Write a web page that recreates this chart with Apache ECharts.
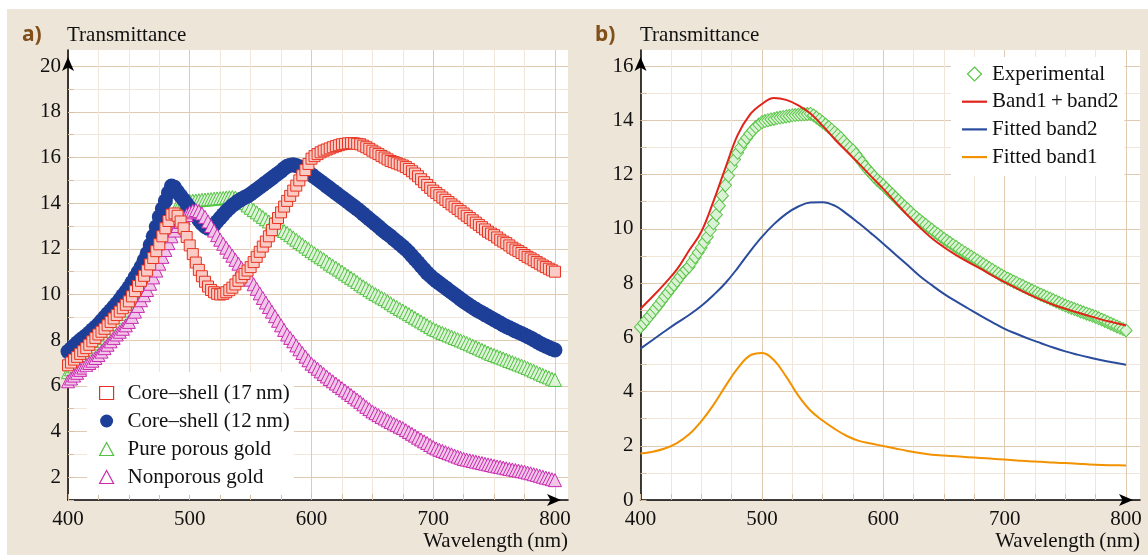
<!DOCTYPE html>
<html><head><meta charset="utf-8">
<script src="https://cdn.jsdelivr.net/npm/echarts@6/dist/echarts.min.js"></script>
<style>html,body{margin:0;padding:0;background:#fff}#c{width:1148px;height:555px}</style>
</head><body><div id="c"></div>
<script>
// ---------- data ----------
// wavelengths of the measured (marker) curves, 2.5 nm apart
const wlA = [400,402.5,405,407.5,410,412.5,415,417.5,420,422.5,
425,427.5,430,432.5,435,437.5,440,442.5,445,447.5,
450,452.5,455,457.5,460,462.5,465,467.5,470,472.5,
475,477.5,480,482.5,485,487.5,490,492.5,495,497.5,
500,502.5,505,507.5,510,512.5,515,517.5,520,522.5,
525,527.5,530,532.5,535,537.5,540,542.5,545,547.5,
550,552.5,555,557.5,560,562.5,565,567.5,570,572.5,
575,577.5,580,582.5,585,587.5,590,592.5,595,597.5,
600,602.5,605,607.5,610,612.5,615,617.5,620,622.5,
625,627.5,630,632.5,635,637.5,640,642.5,645,647.5,
650,652.5,655,657.5,660,662.5,665,667.5,670,672.5,
675,677.5,680,682.5,685,687.5,690,692.5,695,697.5,
700,702.5,705,707.5,710,712.5,715,717.5,720,722.5,
725,727.5,730,732.5,735,737.5,740,742.5,745,747.5,
750,752.5,755,757.5,760,762.5,765,767.5,770,772.5,
775,777.5,780,782.5,785,787.5,790,792.5,795,797.5,
800];
const coreShell17 = [6.9,7.02,7.15,7.27,7.4,7.52,7.65,7.8,7.95,8.1,
8.25,8.37,8.5,8.65,8.8,8.95,9.1,9.25,9.4,9.55,
9.7,9.92,10.15,10.37,10.6,10.82,11.05,11.32,11.6,11.9,
12.2,12.55,12.9,13.22,13.5,13.55,13.45,13.2,12.9,12.52,
12.15,11.77,11.4,11.08,10.8,10.56,10.35,10.2,10.1,10.03,
10.0,10.03,10.1,10.19,10.3,10.44,10.6,10.75,10.9,11.05,
11.2,11.42,11.65,11.87,12.1,12.32,12.55,12.82,13.1,13.35,
13.6,13.85,14.1,14.32,14.55,14.77,15.0,15.22,15.45,15.72,
15.95,16.06,16.15,16.23,16.3,16.35,16.4,16.45,16.5,16.54,
16.58,16.6,16.62,16.63,16.62,16.6,16.58,16.52,16.45,16.38,
16.3,16.22,16.15,16.07,16.0,15.92,15.85,15.8,15.75,15.7,
15.65,15.58,15.5,15.4,15.3,15.18,15.05,14.92,14.8,14.67,
14.55,14.45,14.35,14.25,14.15,14.05,13.95,13.85,13.75,13.65,
13.55,13.45,13.35,13.25,13.15,13.05,12.95,12.85,12.75,12.67,
12.6,12.5,12.4,12.32,12.25,12.15,12.05,11.97,11.9,11.82,
11.73,11.65,11.58,11.5,11.42,11.35,11.27,11.2,11.13,11.06,
11.0];
const coreShell12 = [7.5,7.62,7.75,7.88,8.0,8.1,8.2,8.32,8.45,8.57,
8.7,8.85,9.0,9.15,9.3,9.45,9.6,9.77,9.95,10.12,
10.3,10.52,10.75,10.97,11.2,11.5,11.8,12.17,12.55,12.97,
13.4,13.75,14.1,14.45,14.75,14.7,14.5,14.32,14.15,13.97,
13.8,13.62,13.45,13.27,13.1,12.98,12.9,12.95,13.05,13.2,
13.35,13.5,13.65,13.78,13.9,14.0,14.1,14.18,14.25,14.32,
14.4,14.5,14.6,14.7,14.8,14.9,15.0,15.1,15.2,15.3,
15.4,15.52,15.62,15.66,15.68,15.65,15.6,15.53,15.45,15.35,
15.25,15.15,15.05,14.95,14.85,14.75,14.65,14.55,14.45,14.35,
14.25,14.15,14.05,13.95,13.85,13.75,13.65,13.53,13.42,13.31,
13.2,13.09,12.98,12.86,12.75,12.65,12.55,12.43,12.32,12.21,
12.1,11.98,11.85,11.7,11.55,11.4,11.25,11.1,10.95,10.82,
10.7,10.6,10.5,10.4,10.3,10.2,10.1,10.0,9.9,9.8,
9.7,9.61,9.52,9.43,9.35,9.27,9.2,9.12,9.05,8.97,
8.9,8.82,8.75,8.67,8.6,8.54,8.48,8.41,8.35,8.29,
8.23,8.16,8.1,8.02,7.95,7.87,7.8,7.74,7.68,7.62,
7.57];
const purePorous = [6.6,6.72,6.85,6.97,7.1,7.22,7.35,7.47,7.6,7.72,
7.85,7.97,8.1,8.25,8.4,8.55,8.7,8.85,9.0,9.15,
9.3,9.5,9.7,9.92,10.15,10.4,10.65,10.92,11.2,11.52,
11.85,12.2,12.55,12.92,13.3,13.62,13.9,13.99,14.05,14.08,
14.1,14.11,14.12,14.13,14.15,14.16,14.17,14.18,14.2,14.21,
14.22,14.23,14.25,14.26,14.27,14.25,14.2,14.1,14.0,13.9,
13.8,13.7,13.6,13.5,13.4,13.3,13.2,13.1,13.0,12.92,
12.85,12.78,12.7,12.6,12.5,12.4,12.3,12.2,12.1,12.0,
11.9,11.81,11.72,11.63,11.55,11.45,11.35,11.26,11.18,11.09,
11.0,10.91,10.82,10.73,10.65,10.55,10.45,10.36,10.28,10.19,
10.1,10.02,9.95,9.87,9.8,9.71,9.62,9.53,9.45,9.37,
9.3,9.22,9.14,9.06,8.98,8.9,8.82,8.74,8.66,8.58,
8.5,8.44,8.38,8.32,8.27,8.21,8.16,8.1,8.05,7.99,
7.94,7.88,7.82,7.76,7.7,7.64,7.58,7.52,7.46,7.4,
7.35,7.3,7.25,7.2,7.15,7.09,7.04,6.99,6.94,6.89,
6.84,6.78,6.72,6.66,6.6,6.54,6.48,6.42,6.37,6.31,
6.26];
const nonporous = [6.2,6.32,6.45,6.57,6.7,6.8,6.9,7.0,7.1,7.22,
7.35,7.5,7.65,7.8,7.95,8.1,8.25,8.37,8.5,8.65,
8.8,9.02,9.25,9.5,9.75,9.97,10.2,10.47,10.75,11.05,
11.35,11.65,11.95,12.25,12.55,12.8,13.0,13.18,13.35,13.48,
13.6,13.67,13.7,13.65,13.55,13.4,13.2,13.0,12.8,12.6,
12.4,12.22,12.05,11.87,11.7,11.52,11.35,11.17,11.0,10.82,
10.65,10.45,10.25,10.05,9.85,9.65,9.45,9.25,9.05,8.85,
8.65,8.45,8.25,8.1,7.95,7.77,7.6,7.44,7.28,7.12,
6.97,6.86,6.75,6.63,6.52,6.41,6.3,6.2,6.1,6.0,
5.9,5.8,5.7,5.6,5.5,5.4,5.3,5.19,5.08,4.98,
4.88,4.8,4.72,4.64,4.57,4.49,4.42,4.35,4.28,4.21,
4.15,4.06,3.98,3.9,3.82,3.73,3.65,3.57,3.5,3.41,
3.33,3.26,3.2,3.15,3.1,3.05,3.0,2.95,2.9,2.85,
2.8,2.77,2.74,2.71,2.68,2.65,2.62,2.59,2.56,2.53,
2.5,2.47,2.45,2.42,2.39,2.36,2.34,2.31,2.29,2.26,
2.24,2.2,2.17,2.13,2.1,2.06,2.02,1.98,1.95,1.91,
1.87];
const experimental = [6.38,6.51,6.65,6.78,6.92,7.06,7.2,7.35,7.5,7.64,
7.79,7.93,8.08,8.23,8.38,8.49,8.6,8.77,8.95,9.12,
9.3,9.5,9.7,9.95,10.2,10.52,10.85,11.22,11.6,11.95,
12.3,12.55,12.8,13.0,13.2,13.35,13.5,13.63,13.75,13.84,
13.93,13.97,14.0,14.03,14.05,14.08,14.1,14.12,14.14,14.16,
14.18,14.19,14.2,14.21,14.22,14.23,14.24,14.18,14.1,14.02,
13.93,13.84,13.75,13.65,13.55,13.45,13.35,13.22,13.1,12.99,
12.89,12.75,12.6,12.45,12.3,12.17,12.05,11.92,11.8,11.7,
11.6,11.48,11.37,11.26,11.15,11.04,10.93,10.82,10.72,10.61,
10.5,10.41,10.32,10.23,10.14,10.05,9.97,9.88,9.8,9.71,
9.63,9.55,9.48,9.4,9.33,9.25,9.18,9.11,9.04,8.97,
8.9,8.83,8.76,8.69,8.62,8.55,8.48,8.41,8.35,8.28,
8.22,8.16,8.11,8.05,8.0,7.94,7.89,7.83,7.78,7.72,
7.67,7.62,7.57,7.52,7.47,7.42,7.37,7.32,7.27,7.22,
7.17,7.12,7.08,7.04,7.0,6.95,6.91,6.87,6.83,6.79,
6.75,6.7,6.65,6.6,6.55,6.5,6.45,6.4,6.35,6.3,
6.25];
// fitted curves, 10 nm apart
const wlB = [400,410,420,430,440,450,460,470,480,490,500,510,520,530,540,550,560,570,580,590,600,610,620,630,640,650,660,670,680,690,700,710,720,730,740,750,760,770,780,790,800];
const band1plus2 = [7.05,7.5,7.98,8.5,9.2,9.88,11.0,12.25,13.45,14.2,
14.6,14.82,14.75,14.55,14.25,13.8,13.3,12.85,12.4,11.93,
11.47,10.98,10.5,10.05,9.65,9.32,9.03,8.77,8.53,8.27,
8.03,7.8,7.58,7.38,7.2,7.05,6.91,6.78,6.65,6.54,
6.43];
const fittedBand2 = [5.58,5.9,6.22,6.53,6.82,7.15,7.55,8.0,8.55,9.15,
9.7,10.17,10.55,10.82,10.97,10.98,10.85,10.55,10.2,9.83,
9.45,9.05,8.66,8.26,7.92,7.6,7.32,7.06,6.8,6.55,
6.31,6.12,5.94,5.78,5.62,5.48,5.36,5.25,5.15,5.07,
4.99];
const fittedBand1 = [1.71,1.78,1.9,2.1,2.42,2.9,3.5,4.2,4.85,5.32,
5.42,5.15,4.55,3.85,3.3,2.93,2.62,2.36,2.18,2.08,
1.99,1.9,1.81,1.73,1.67,1.64,1.61,1.58,1.55,1.52,
1.49,1.46,1.43,1.41,1.38,1.36,1.34,1.31,1.29,1.28,
1.27];
const xTickVals = [400,425,450,475,500,525,550,575,600,625,650,675,700,725,750,775,800];
const xLabelVals = [400,500,600,700,800];
const yTickValsA = [1,2,3,4,5,6,7,8,9,10,11,12,13,14,15,16,17,18,19,20];
const yLabelValsA = [2,4,6,8,10,12,14,16,18,20];
const yTickValsB = [0,1,2,3,4,5,6,7,8,9,10,11,12,13,14,15,16];
const yLabelValsB = [0,2,4,6,8,10,12,14,16];
const NAMES = ['Core\u2013shell (17\u2009nm)','Core\u2013shell (12\u2009nm)','Pure porous gold','Nonporous gold'];
const NAMES_B = ['Experimental','Band1\u2009+\u2009band2','Fitted band2','Fitted band1'];

// ---------- style ----------
const SERIF = '"Liberation Serif", "DejaVu Serif", serif';
const MAJ = '#E0CAB2', MIN = '#F1E6D9';
const C_RED = '#E8321F', C_BLUE = '#1E3F98', C_GREEN = '#4FC23E', C_MAG = '#C92AAE';
const B_RED = '#E2231A', B_BLUE = '#2A4C9C', B_ORANGE = '#F39200', B_GREEN = '#58C646';
const LINE_ICON = 'path://M0,0H25V2.2H0Z';
const DIAMOND_ICON = 'path://M7,0L14,7L7,14L0,7Z';

function zip(xs, ys){ return xs.map((x,i)=>[x, ys[i]]); }

function xAxis(gi, max){
  return {gridIndex:gi, type:'value', min:400, max:max,
    axisLine:{show:true, lineStyle:{color:'#000', width:1.5}, symbol:['none','arrow'], symbolSize:[9,14], symbolOffset:[0,-7]},
    axisTick:{show:true, inside:true, length:6, lineStyle:{color:'#D8BFA4'}, customValues:xTickVals},
    axisLabel:{customValues:xLabelVals, color:'#111', fontFamily:SERIF, fontSize:21, margin:9},
    splitLine:{show:true, lineStyle:{color:[MAJ, MIN, MIN, MIN], width:1}}};
}
function yAxis(gi, min, max, ticks, labels, colors){
  return {gridIndex:gi, type:'value', min:min, max:max,
    axisLine:{show:true, lineStyle:{color:'#000', width:1.5}, symbol:['none','arrow'], symbolSize:[9,14], symbolOffset:[0,-7]},
    axisTick:{show:true, inside:true, length:6, lineStyle:{color:'#D8BFA4'}, customValues:ticks},
    axisLabel:{customValues:labels, color:'#111', fontFamily:SERIF, fontSize:21, margin:7},
    splitLine:{show:true, lineStyle:{color:colors, width:1}}};
}

const option = {
  animation:false,
  backgroundColor:'#EEE5D9',
  graphic:[
    {type:'rect', silent:true, shape:{x:0,y:0,width:1148,height:9}, style:{fill:'#fff'}},
    {type:'rect', silent:true, shape:{x:0,y:0,width:7,height:555}, style:{fill:'#fff'}},
    {type:'text', x:22, y:35, style:{text:'a)', font:'bold 21px "Noto Sans", sans-serif', fill:'#80501A', verticalAlign:'middle'}},
    {type:'text', x:67, y:35, style:{text:'Transmittance', font:'21px '+SERIF, fill:'#111', verticalAlign:'middle'}},
    {type:'text', x:568, y:541, style:{text:'Wavelength\u2009(nm)', font:'21px '+SERIF, fill:'#111', align:'right', verticalAlign:'middle'}},
    {type:'text', x:595, y:35, style:{text:'b)', font:'bold 21px "Noto Sans", sans-serif', fill:'#80501A', verticalAlign:'middle'}},
    {type:'text', x:640, y:35, style:{text:'Transmittance', font:'21px '+SERIF, fill:'#111', verticalAlign:'middle'}},
    {type:'text', x:1140, y:541, style:{text:'Wavelength\u2009(nm)', font:'21px '+SERIF, fill:'#111', align:'right', verticalAlign:'middle'}}
  ],
  grid:[
    {left:68, top:50, width:500, height:450, show:true, backgroundColor:'#fff', borderWidth:0},
    {left:640.5, top:50, width:499.5, height:450, show:true, backgroundColor:'#fff', borderWidth:0}
  ],
  xAxis:[ xAxis(0, 810.7), xAxis(1, 811.5) ],
  yAxis:[
    yAxis(0, 1, 20.71, yTickValsA, yLabelValsA, [MIN, MAJ]),
    yAxis(1, 0, 16.59, yTickValsB, yLabelValsB, [MAJ, MIN])
  ],
  legend:[
    {orient:'vertical', left:87, top:372, backgroundColor:'#fff', padding:[10,4,7,12], itemGap:6,
     itemWidth:14, itemHeight:13, selectedMode:false,
     textStyle:{fontFamily:SERIF, fontSize:21, color:'#111', lineHeight:22, padding:[0,0,0,9]},
     data:[
       {name:NAMES[0], icon:'rect', itemStyle:{color:'#fff', borderColor:C_RED, borderWidth:1.2}},
       {name:NAMES[1], icon:'circle', itemStyle:{color:C_BLUE, borderWidth:0}},
       {name:NAMES[2], icon:'triangle', itemStyle:{color:'#fff', borderColor:C_GREEN, borderWidth:1.2}},
       {name:NAMES[3], icon:'triangle', itemStyle:{color:'#fff', borderColor:C_MAG, borderWidth:1.2}}
     ]},
    {orient:'vertical', left:951, top:57, backgroundColor:'#fff', padding:[6,6,8,11], itemGap:5.7,
     itemWidth:25, itemHeight:14, selectedMode:false, symbolKeepAspect:true,
     textStyle:{fontFamily:SERIF, fontSize:21, color:'#111', lineHeight:22},
     data:[
       {name:NAMES_B[0], icon:DIAMOND_ICON, itemStyle:{color:'#fff', borderColor:B_GREEN, borderWidth:1.2}},
       {name:NAMES_B[1], icon:LINE_ICON, itemStyle:{color:B_RED, borderWidth:0}},
       {name:NAMES_B[2], icon:LINE_ICON, itemStyle:{color:B_BLUE, borderWidth:0}},
       {name:NAMES_B[3], icon:LINE_ICON, itemStyle:{color:B_ORANGE, borderWidth:0}}
     ]}
  ],
  series:[
    {name:NAMES[2], type:'scatter', xAxisIndex:0, yAxisIndex:0, symbol:'triangle', symbolSize:13,
     itemStyle:{color:'#DDF3D8', borderColor:C_GREEN, borderWidth:1, opacity:1}, data:zip(wlA, purePorous)},
    {name:NAMES[1], type:'scatter', xAxisIndex:0, yAxisIndex:0, symbol:'circle', symbolSize:15,
     itemStyle:{color:C_BLUE, opacity:1}, data:zip(wlA, coreShell12)},
    {name:NAMES[3], type:'scatter', xAxisIndex:0, yAxisIndex:0, symbol:'triangle', symbolSize:13,
     itemStyle:{color:'#F2C6E9', borderColor:C_MAG, borderWidth:1, opacity:1}, data:zip(wlA, nonporous)},
    {name:NAMES[0], type:'scatter', xAxisIndex:0, yAxisIndex:0, symbol:'rect', symbolSize:11,
     itemStyle:{color:'#F9CBC4', borderColor:C_RED, borderWidth:1, opacity:1}, data:zip(wlA, coreShell17)},

    {name:NAMES_B[0], type:'scatter', xAxisIndex:1, yAxisIndex:1, symbol:'diamond', symbolSize:[12,13],
     itemStyle:{color:'#DCF2D6', borderColor:B_GREEN, borderWidth:1, opacity:1}, data:zip(wlA, experimental)},
    {name:NAMES_B[1], type:'line', xAxisIndex:1, yAxisIndex:1, smooth:0.4, symbol:'none', showSymbol:false,
     lineStyle:{color:B_RED, width:2}, itemStyle:{color:B_RED}, data:zip(wlB, band1plus2)},
    {name:NAMES_B[2], type:'line', xAxisIndex:1, yAxisIndex:1, smooth:0.4, symbol:'none', showSymbol:false,
     lineStyle:{color:B_BLUE, width:2}, itemStyle:{color:B_BLUE}, data:zip(wlB, fittedBand2)},
    {name:NAMES_B[3], type:'line', xAxisIndex:1, yAxisIndex:1, smooth:0.4, symbol:'none', showSymbol:false,
     lineStyle:{color:B_ORANGE, width:2}, itemStyle:{color:B_ORANGE}, data:zip(wlB, fittedBand1)}
  ]
};
const chart = echarts.init(document.getElementById('c'));
chart.setOption(option);
</script></body></html>
